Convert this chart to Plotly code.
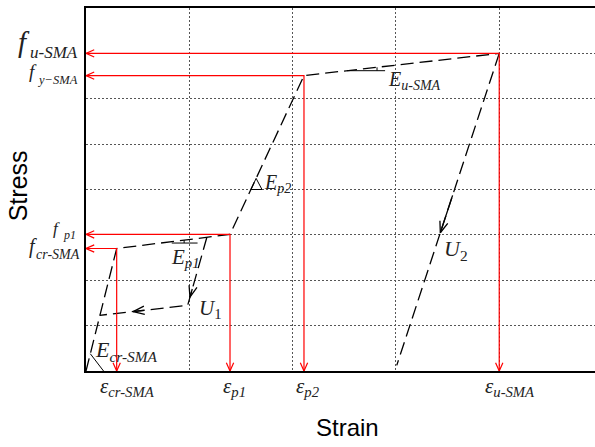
import math
import plotly.graph_objects as go

# ---------------- data ----------------
# envelope: origin -> cracking -> first plateau end -> yield -> ultimate
env_strain = [0.0, 0.297, 1.394, 2.11, 4.0]
env_stress = [0.0, 2.70, 3.01, 6.51, 7.0]
# first unloading / reloading branch (U1)
u1_strain = [1.17, 0.984, 0.133]
u1_stress = [2.947, 1.446, 1.227]
# second unloading branch (U2)
u2_strain = [4.0, 3.008]
u2_stress = [7.0, 0.124]

stress_tick_sub = ['cr-SMA', 'p1', 'y−SMA', 'u-SMA']
strain_tick_sub = ['cr-SMA', 'p1', 'p2', 'u-SMA']
x_grid = [1, 2, 3, 4]
y_grid = [1, 2, 3, 4, 5, 6, 7]

# ---------------- styles / geometry ----------------
SERIF = 'Liberation Serif'
SANS = 'Liberation Sans'
DASH = '13px,6px'
RED = '#ff0000'
TXT = '#222'
W, H = 595, 447
ML, MR, MT, MB = 86, 0, 8, 76
XR = [0, 4.927]
YR = [0, 8]
KX = (W - ML - MR) / (XR[1] - XR[0])   # px per strain unit
KY = (H - MT - MB) / (YR[1] - YR[0])   # px per stress unit

fig = go.Figure()


def line(xs, ys, color='black', w=1.0, dash=None):
    fig.add_trace(go.Scatter(x=xs, y=ys, mode='lines', hoverinfo='skip', showlegend=False,
                             line=dict(color=color, width=w, dash=dash)))


def chevron(tip_x, tip_y, from_x, from_y, color, w, length=9.0, half_angle=24):
    dx = (tip_x - from_x) * KX
    dy = (tip_y - from_y) * KY
    n = math.hypot(dx, dy)
    ux, uy = dx / n, dy / n
    xs, ys = [], []
    for sgn in (1, -1):
        a = math.radians(half_angle) * sgn
        rx = ux * math.cos(a) - uy * math.sin(a)
        ry = ux * math.sin(a) + uy * math.cos(a)
        xs.append(tip_x - rx * length / KX)
        ys.append(tip_y - ry * length / KY)
    line([xs[0], tip_x, xs[1]], [ys[0], tip_y, ys[1]], color, w)


# black curves
line(env_strain, env_stress, 'black', 1.3, DASH)
line(u1_strain, u1_stress, 'black', 1.3, DASH)
line(u2_strain, u2_stress, 'black', 1.3, DASH)


def on_env(x):
    for i in range(len(env_strain) - 1):
        x0, x1 = env_strain[i], env_strain[i + 1]
        if x0 <= x <= x1:
            return env_stress[i] + (env_stress[i + 1] - env_stress[i]) * (x - x0) / (x1 - x0)
    return env_stress[-1]


def env_x_at(y, seg):
    x0, x1 = env_strain[seg], env_strain[seg + 1]
    y0, y1 = env_stress[seg], env_stress[seg + 1]
    return x0 + (x1 - x0) * (y - y0) / (y1 - y0)


# slope triangles
ya = 0.38
line([env_x_at(ya, 0), 0.17], [ya, 0.0])                      # E_cr-SMA
yb = 2.82
line([0.83, 1.08], [yb, yb])                                   # E_p1
line([0.95, 0.95], [yb, on_env(0.95)])
yc = 4.0
xc = env_x_at(yc, 2)
line([xc, env_x_at(4.245, 2), xc + 0.107, xc], [yc, 4.245, yc, yc])   # E_p2
xd = 2.527
yd = on_env(xd)
line([xd, 2.895], [yd, yd])                                    # E_u-SMA
line([2.817, 2.817], [yd, on_env(2.817)])

# red guide arrows
for i in range(1, len(env_strain)):
    e, f = env_strain[i], env_stress[i]
    line([0, e, e], [f, f, 0], RED, 1.2)
    chevron(0, f, e, f, RED, 1.2)
    chevron(e, 0, e, f, RED, 1.2)


def along(xs, ys, i, t):
    return xs[i] + (xs[i + 1] - xs[i]) * t, ys[i] + (ys[i + 1] - ys[i]) * t


for xs, ys, seg, t in [(u1_strain, u1_stress, 0, 0.88),
                       (u1_strain, u1_stress, 1, 0.62),
                       (u2_strain, u2_stress, 0, 0.575)]:
    tx, ty = along(xs, ys, seg, t)
    sx, sy = along(xs, ys, seg, t - 0.12)
    line([sx, tx], [sy, ty], 'black', 1.3)
    chevron(tx, ty, sx, sy, 'black', 1.3, length=12, half_angle=20)

annotations = []

# stress labels (left of axis): big italic f + separate italic subscript
f_size = [20, 17, 19, 29]
f_xshift = [-47, -24, -47, -54]
f_yshift = [2, 6, 4, 11]
s_size = [14, 12, 12.5, 17]
s_xshift = [-4, -8, -6, -6]
s_yshift = [-6, -1, -4, 1]
for i in range(4):
    yv = env_stress[i + 1]
    annotations.append(dict(x=0, y=yv, xref='paper', yref='y', text='<i>f</i>',
                            showarrow=False, xanchor='right', yanchor='middle',
                            xshift=f_xshift[i], yshift=f_yshift[i],
                            font=dict(family=SERIF, size=f_size[i], color=TXT)))
    annotations.append(dict(x=0, y=yv, xref='paper', yref='y',
                            text=f'<i>{stress_tick_sub[i]}</i>',
                            showarrow=False, xanchor='right', yanchor='middle',
                            xshift=s_xshift[i], yshift=s_yshift[i],
                            font=dict(family=SERIF, size=s_size[i], color=TXT)))

# strain labels (below axis)
strain_xshift = [11, 4, 4, 11]
for i in range(4):
    txt = f'<i>ε</i><sub><i>{strain_tick_sub[i]}</i></sub>'
    annotations.append(dict(x=env_strain[i + 1], y=0, xref='x', yref='paper', text=txt,
                            showarrow=False, xanchor='center', yanchor='top',
                            xshift=strain_xshift[i], yshift=-1,
                            font=dict(family=SERIF, size=21, color=TXT)))


def label(x, y, txt, size):
    annotations.append(dict(x=x, y=y, xref='x', yref='y', text=txt, showarrow=False,
                            xanchor='left', yanchor='middle',
                            font=dict(family=SERIF, size=size, color=TXT)))


label(1.70, 4.14, '<i>E</i><sub><i>p2</i></sub>', 20)
label(2.90, 6.41, '<i>E</i><sub><i>u-SMA</i></sub>', 20)
label(0.80, 2.49, '<i>E</i><sub><i>p1</i></sub>', 21)
label(0.07, 0.43, '<i>E</i><sub><i>cr-SMA</i></sub>', 22)
label(1.07, 1.36, '<i>U</i><sub>1</sub>', 21)
label(3.45, 2.66, '<i>U</i><sub>2</sub>', 22)

# axis titles
annotations.append(dict(x=0.513, y=-0.157, xref='paper', yref='paper', text='Strain',
                        showarrow=False, xanchor='center', yanchor='middle',
                        font=dict(family=SANS, size=24, color='black')))
annotations.append(dict(x=-0.134, y=0.511, xref='paper', yref='paper', text='Stress',
                        showarrow=False, xanchor='center', yanchor='middle', textangle=-90,
                        font=dict(family=SANS, size=25, color='black')))

fig.update_layout(
    width=W, height=H,
    margin=dict(l=ML, r=MR, t=MT, b=MB),
    paper_bgcolor='white', plot_bgcolor='white',
    annotations=annotations,
    xaxis=dict(range=XR, tickvals=x_grid, showticklabels=False, ticks='',
               showgrid=True, gridcolor='#555', gridwidth=1, griddash='1.5px,2.5px',
               zeroline=False, showline=True, linecolor='black', linewidth=1.5,
               mirror=True, fixedrange=True),
    yaxis=dict(range=YR, tickvals=y_grid, showticklabels=False, ticks='',
               showgrid=True, gridcolor='#555', gridwidth=1, griddash='1.5px,2.5px',
               zeroline=False, showline=True, linecolor='black', linewidth=1.5,
               mirror=False, fixedrange=True),
)

fig.write_html('out.html')
